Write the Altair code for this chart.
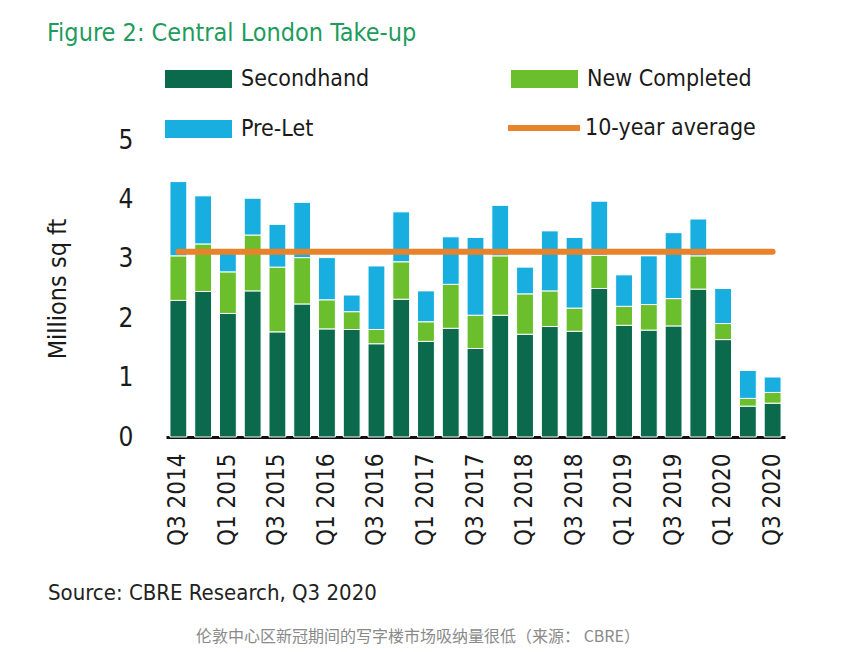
import altair as alt
import pandas as pd

QUARTERS = [
    "Q3 2014", "Q4 2014",
    "Q1 2015", "Q2 2015", "Q3 2015", "Q4 2015",
    "Q1 2016", "Q2 2016", "Q3 2016", "Q4 2016",
    "Q1 2017", "Q2 2017", "Q3 2017", "Q4 2017",
    "Q1 2018", "Q2 2018", "Q3 2018", "Q4 2018",
    "Q1 2019", "Q2 2019", "Q3 2019", "Q4 2019",
    "Q1 2020", "Q2 2020", "Q3 2020",
]
SECONDHAND = [2.30, 2.45, 2.08, 2.46, 1.77, 2.24, 1.82, 1.81, 1.57, 2.32, 1.61, 1.83, 1.49,
              2.05, 1.73, 1.86, 1.78, 2.50, 1.88, 1.80, 1.87, 2.49, 1.64, 0.52, 0.57]
NEW_COMPLETED = [0.75, 0.80, 0.70, 0.94, 1.09, 0.78, 0.49, 0.30, 0.24, 0.63, 0.33, 0.74, 0.56,
                 1.00, 0.68, 0.60, 0.39, 0.56, 0.32, 0.43, 0.46, 0.56, 0.27, 0.13, 0.18]
PRE_LET = [1.25, 0.81, 0.32, 0.62, 0.72, 0.93, 0.71, 0.28, 1.07, 0.84, 0.52, 0.80, 1.31,
           0.85, 0.45, 1.01, 1.19, 0.91, 0.53, 0.82, 1.11, 0.62, 0.59, 0.47, 0.26]
TEN_YEAR_AVG = 3.12

SERIES = ["Secondhand", "New Completed", "Pre-Let"]
COLORS = ["#0b6a4b", "#6bbe2c", "#19aee0"]
AVG_LABEL = "10-year average"
AVG_COLOR = "#e8832c"
Y_TICKS = [0, 1, 2, 3, 4, 5]
X_LABELS = QUARTERS[::2]

TITLE = "Figure 2: Central London Take-up"
SOURCE = "Source: CBRE Research, Q3 2020"
CAPTION = "伦敦中心区新冠期间的写字楼市场吸纳量很低（来源： CBRE）"
Y_TITLE = "Millions sq ft"

FONT = "DejaVu Sans Condensed, Liberation Sans Narrow, sans-serif"

rows = []
for i, q in enumerate(QUARTERS):
    for k, (name, vals) in enumerate(zip(SERIES, [SECONDHAND, NEW_COMPLETED, PRE_LET])):
        rows.append({"quarter": q, "series": name, "value": vals[i], "ord": k})
bars_df = pd.DataFrame(rows)
line_df = pd.DataFrame({"quarter": QUARTERS, "series": [AVG_LABEL] * len(QUARTERS)})

x_enc = alt.X(
    "quarter:N", sort=QUARTERS,
    scale=alt.Scale(paddingInner=0.32, paddingOuter=0.16),
    axis=alt.Axis(
        title=None, values=X_LABELS, labelAngle=270, labelFontSize=24, labelFont=FONT,
        labelColor="#1a1a1a", labelPadding=16, ticks=False, grid=False,
        domainColor="#111111", domainWidth=3, labelOverlap=False,
    ),
)
y_scale = alt.Scale(domain=[0, 5], nice=False)

bars = alt.Chart(bars_df).mark_bar(stroke="white", strokeWidth=1).encode(
    x=x_enc,
    y=alt.Y(
        "value:Q", stack="zero", scale=y_scale,
        axis=alt.Axis(
            title=Y_TITLE, values=Y_TICKS, format="d", labelFontSize=26, labelFont=FONT,
            labelColor="#1a1a1a", labelPadding=33, ticks=False, domain=False, grid=False,
            titleFontSize=25, titleFont=FONT, titleFontWeight="normal", titleColor="#1a1a1a",
            titlePadding=48,
        ),
    ),
    color=alt.Color(
        "series:N",
        scale=alt.Scale(domain=SERIES, range=COLORS),
        legend=alt.Legend(
            orient="none", legendX=-1, legendY=-75, columns=2, direction="horizontal",
            title=None, symbolType="M-1,-0.27H1V0.27H-1Z", symbolSize=4489,
            symbolStrokeWidth=0, clipHeight=28, gridAlign="all",
            labelFontSize=23, labelFont=FONT, labelColor="#1a1a1a", labelOffset=9,
            columnPadding=105, rowPadding=22, labelLimit=400, padding=0,
        ),
    ),
    order=alt.Order("ord:Q", sort="ascending"),
)

avg_line = alt.Chart(line_df).mark_line(strokeWidth=6, strokeCap="round").encode(
    x=alt.X("quarter:N", sort=QUARTERS),
    y=alt.datum(TEN_YEAR_AVG),
    color=alt.Color(
        "series:N",
        scale=alt.Scale(domain=[AVG_LABEL], range=[AVG_COLOR]),
        legend=alt.Legend(
            orient="none", legendX=339, legendY=-26, title=None,
            symbolType="stroke", symbolSize=5184, symbolStrokeWidth=6, clipHeight=28,
            labelFontSize=23, labelFont=FONT, labelColor="#1a1a1a", labelOffset=2,
            labelLimit=400, padding=0,
        ),
    ),
)

title = alt.Chart(pd.DataFrame({"t": [TITLE]})).mark_text(
    align="left", baseline="middle", fontSize=25, font=FONT, color="#1e9c5d"
).encode(text="t:N", x=alt.value(-119), y=alt.value(-107))

source = alt.Chart(pd.DataFrame({"t": [SOURCE]})).mark_text(
    align="left", baseline="middle", fontSize=22, font=FONT, color="#222222"
).encode(text="t:N", x=alt.value(-118), y=alt.value(453))

caption = alt.Chart(pd.DataFrame({"t": [CAPTION]})).mark_text(
    align="center", baseline="middle", fontSize=16, font="Noto Sans CJK SC", color="#8a8a8a"
).encode(text="t:N", x=alt.value(252), y=alt.value(497))

chart = alt.layer(bars, avg_line, title, source, caption).resolve_scale(
    color="independent"
).properties(
    width=619, height=297,
    autosize=alt.AutoSizeParams(type="none"),
    padding={"left": 166, "top": 140, "right": 56, "bottom": 215},
).configure(background="white").configure_view(stroke=None, strokeWidth=0)

chart.save("out.html", embed_options={"renderer": "svg", "actions": False})
